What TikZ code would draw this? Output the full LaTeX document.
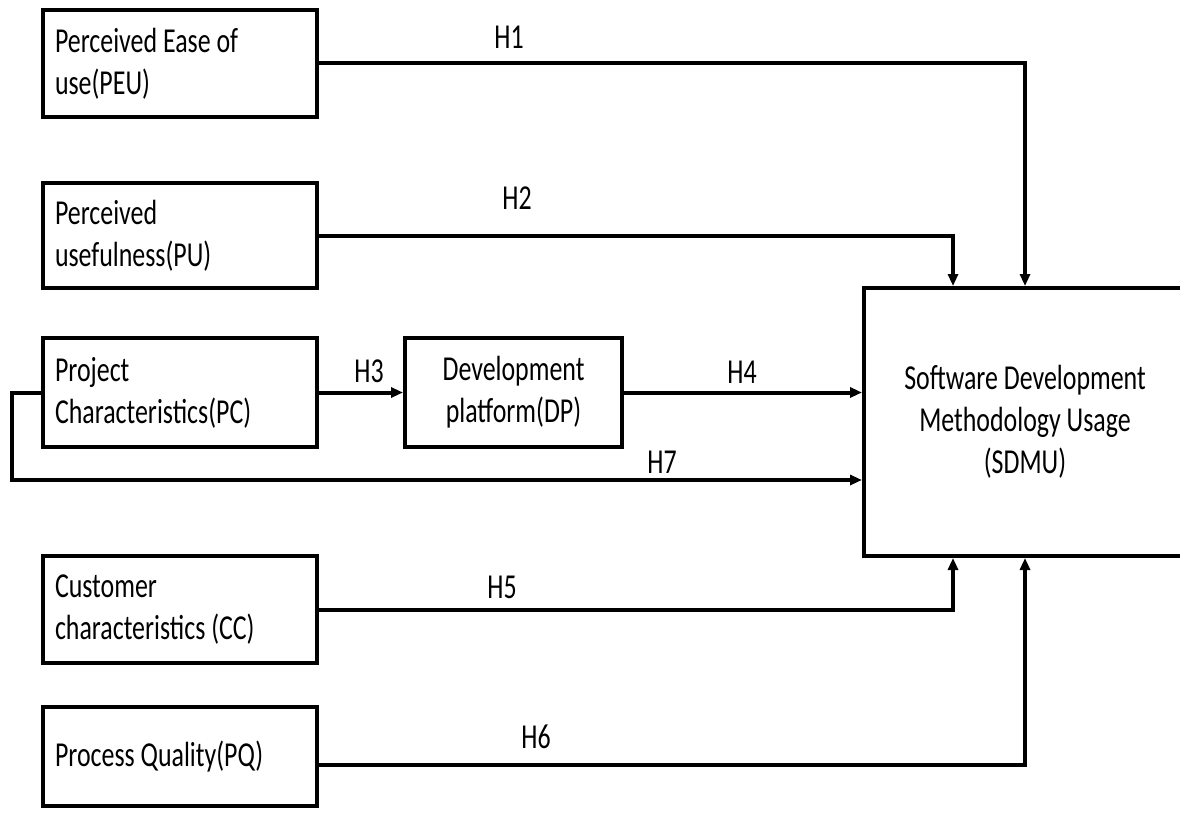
\documentclass[tikz,border=0pt]{standalone}
\usepackage{fontspec}
\setmainfont{Carlito}[FakeStretch=0.74]
\usetikzlibrary{arrows.meta,calc}

\tikzset{
  box/.style={draw=black, line width=3pt, rectangle, inner xsep=9pt, inner ysep=0pt,
              font=\fontsize{26.25}{31.5}\selectfont},
  leftbox/.style={box, text width=187.5pt, align=flush left, minimum width=205.5pt},
  lbl/.style={inner sep=0pt, font=\fontsize{26.25}{31.5}\selectfont},
  conn/.style={line width=3pt, -{Triangle[length=9pt,width=7.5pt]}},
}

\begin{document}
\begin{tikzpicture}[x=0.75pt, y=-0.75pt]
  \useasboundingbox (0,0) rectangle (1180,813);
  \clip (0,0) rectangle (1180,813);

  % constructs on the left
  \node[leftbox, minimum height=80.25pt] (PEU) at (180,63.5)  {Perceived Ease of\\use(PEU)};
  \node[leftbox, minimum height=78.75pt] (PU)  at (180,235.5) {Perceived\\usefulness(PU)};
  \node[leftbox, minimum height=81.75pt] (PC)  at (180,392.5) {Project\\Characteristics(PC)};
  \node[leftbox, minimum height=80.25pt] (CC)  at (180,609.5) {Customer\\characteristics (CC)};
  \node[leftbox, minimum height=74.25pt] (PQ)  at (180,756.5) {Process Quality(PQ)};

  % mediating construct
  \node[box, align=center, minimum width=162.75pt, minimum height=81.75pt] (DP) at (513.5,392.5)
    {Development\\platform(DP)};

  % dependent construct
  \node[box, align=center, minimum width=241.5pt, minimum height=201pt] (SDMU) at (1025,422)
    {Software Development\\Methodology Usage\\(SDMU)};

  % hypothesised paths
  \draw[conn] (PEU.east) -| (SDMU.north);
  \draw[conn] (PU.east) -| ($(SDMU.north)+(-72,0)$);
  \draw[conn] (PC.east) -- (DP.west);
  \draw[conn] (DP.east) -- (SDMU.west |- DP.east);
  \coordinate (h7bend) at (12,480);
  \draw[conn] (PC.west) -| (h7bend) -- (SDMU.west |- h7bend);
  \draw[conn] (CC.east) -| ($(SDMU.south)+(-72,0)$);
  \draw[conn] ([yshift=-6.4pt]PQ.east) -| (SDMU.south);

  % path labels
  \node[lbl] (lH1) at (509,37)  {H1};
  \node[lbl] (lH2) at (517,198) {H2};
  \node[lbl] (lH3) at (369,371) {H3};
  \node[lbl] (lH4) at (742,372) {H4};
  \node[lbl] (lH7) at (662,462) {H7};
  \node[lbl] (lH5) at (502,587) {H5};
  \node[lbl] (lH6) at (536,737) {H6};
\end{tikzpicture}
\end{document}
